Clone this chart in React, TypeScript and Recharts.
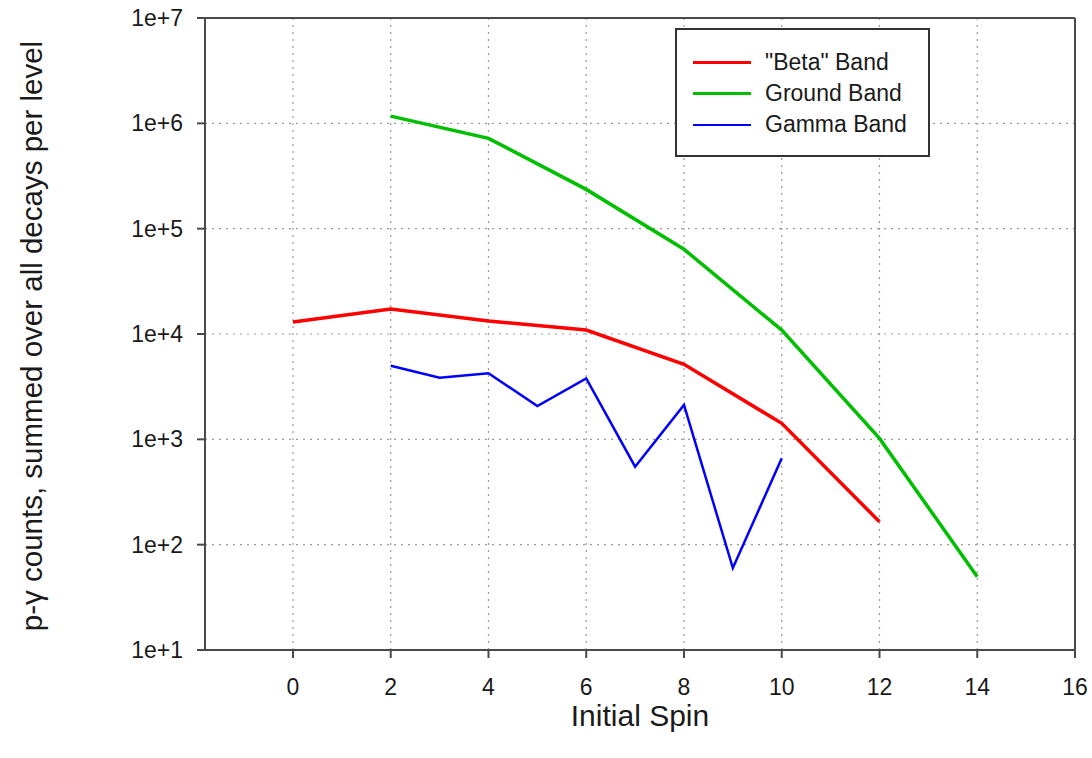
import React, { useLayoutEffect } from 'react';
import {
  LineChart,
  Line,
  XAxis,
  YAxis,
  CartesianGrid,
  ReferenceLine,
  Label,
} from 'recharts';

// Summed p-gamma counts per level, by initial spin of each band
const betaSpins = [0, 2, 4, 6, 8, 10, 12];
const betaCounts = [13000, 17300, 13300, 10900, 5150, 1420, 165];

const groundSpins = [2, 4, 6, 8, 10, 12, 14];
const groundCounts = [1170000, 720000, 236000, 63700, 10900, 1020, 49.7];

const gammaSpins = [2, 3, 4, 5, 6, 7, 8, 9, 10];
const gammaCounts = [5000, 3850, 4240, 2070, 3790, 550, 2120, 60, 660];

const xTicks = [0, 2, 4, 6, 8, 10, 12, 14, 16];
const yTicks = [10, 100, 1e3, 1e4, 1e5, 1e6, 1e7];

const seriesInfo = [
  { key: 'beta', name: '"Beta" Band', color: '#ff0000', width: 3.5 },
  { key: 'ground', name: 'Ground Band', color: '#00bf00', width: 3.5 },
  { key: 'gamma', name: 'Gamma Band', color: '#0000ff', width: 2.5 },
];

// Merge the per-band arrays into one table keyed by spin
const allSpins = Array.from(new Set([...betaSpins, ...groundSpins, ...gammaSpins])).sort(
  (a, b) => a - b
);
const table = allSpins.map((spin) => {
  const bi = betaSpins.indexOf(spin);
  const gi = groundSpins.indexOf(spin);
  const mi = gammaSpins.indexOf(spin);
  return {
    spin,
    beta: bi >= 0 ? betaCounts[bi] : null,
    ground: gi >= 0 ? groundCounts[gi] : null,
    gamma: mi >= 0 ? gammaCounts[mi] : null,
  };
});

const FONT = '"Liberation Sans", Arial, sans-serif';
const AXIS = '#4a4a4a';
const TEXT = '#1a1a1a';

const formatPow = (v: number) => `1e+${Math.round(Math.log10(v))}`;

const LegendBox = () => (
  <div
    style={{
      position: 'absolute',
      left: 675,
      top: 28,
      boxSizing: 'border-box',
      width: 255,
      height: 129,
      border: '2px solid #333',
      background: '#fff',
      padding: '17px 0 0 16px',
      fontFamily: FONT,
      fontSize: 23,
      color: TEXT,
    }}
  >
    {seriesInfo.map((s) => (
      <div key={s.key} style={{ display: 'flex', alignItems: 'center', height: 31 }}>
        <div
          style={{
            width: 58,
            height: s.key === 'gamma' ? 2 : 3,
            background: s.color,
            marginRight: 14,
          }}
        />
        <span style={{ lineHeight: '31px' }}>{s.name}</span>
      </div>
    ))}
  </div>
);

const XTitle = (props: any) => {
  const vb = props.viewBox || {};
  return (
    <text
      x={vb.x + vb.width / 2}
      y={vb.y + 76}
      textAnchor="middle"
      fontFamily={FONT}
      fontSize={30}
      fill={TEXT}
    >
      Initial Spin
    </text>
  );
};

const YTitle = (props: any) => {
  const vb = props.viewBox || {};
  const cx = 31;
  const cy = vb.y + vb.height / 2 + 2;
  return (
    <text
      x={cx}
      y={cy}
      transform={`rotate(-90, ${cx}, ${cy})`}
      textAnchor="middle"
      dominantBaseline="central"
      fontFamily={FONT}
      fontSize={29.5}
      fill={TEXT}
    >
      p-γ counts, summed over all decays per level
    </text>
  );
};

export default function App() {
  // The chart fills the whole page, so drop the default body margin
  useLayoutEffect(() => {
    document.body.style.margin = '0';
  }, []);

  return (
    <div style={{ position: 'relative', width: 1092, height: 758, overflow: 'hidden' }}>
      <LineChart
        width={1092}
        height={758}
        data={table}
        margin={{ top: 18, right: 17, left: 0, bottom: 48 }}
        style={{ display: 'block' }}
      >
        <CartesianGrid stroke="#9a9a9a" strokeDasharray="2 5" strokeWidth={1.2} />
        <XAxis
          dataKey="spin"
          type="number"
          domain={[-1.8, 16]}
          ticks={xTicks}
          allowDataOverflow
          height={60}
          stroke={AXIS}
          strokeWidth={2}
          tickSize={8}
          tickMargin={21}
          tick={{ fill: TEXT, fontSize: 23, fontFamily: FONT }}
          tickLine={{ stroke: AXIS, strokeWidth: 2 }}
        >
          <Label content={<XTitle />} />
        </XAxis>
        <YAxis
          type="number"
          scale="log"
          domain={[10, 1e7]}
          ticks={yTicks}
          allowDataOverflow
          width={205}
          stroke={AXIS}
          strokeWidth={2}
          tickSize={8}
          tickMargin={14}
          tickFormatter={formatPow}
          tick={{ fill: TEXT, fontSize: 23, fontFamily: FONT }}
          tickLine={{ stroke: AXIS, strokeWidth: 2 }}
        >
          <Label content={<YTitle />} />
        </YAxis>
        <ReferenceLine y={1e7} stroke={AXIS} strokeWidth={2} />
        <ReferenceLine x={16} stroke={AXIS} strokeWidth={2} />
        {seriesInfo.map((s) => (
          <Line
            key={s.key}
            dataKey={s.key}
            name={s.name}
            type="linear"
            stroke={s.color}
            strokeWidth={s.width}
            dot={false}
            activeDot={false}
            connectNulls
            isAnimationActive={false}
          />
        ))}
      </LineChart>
      <LegendBox />
    </div>
  );
}
